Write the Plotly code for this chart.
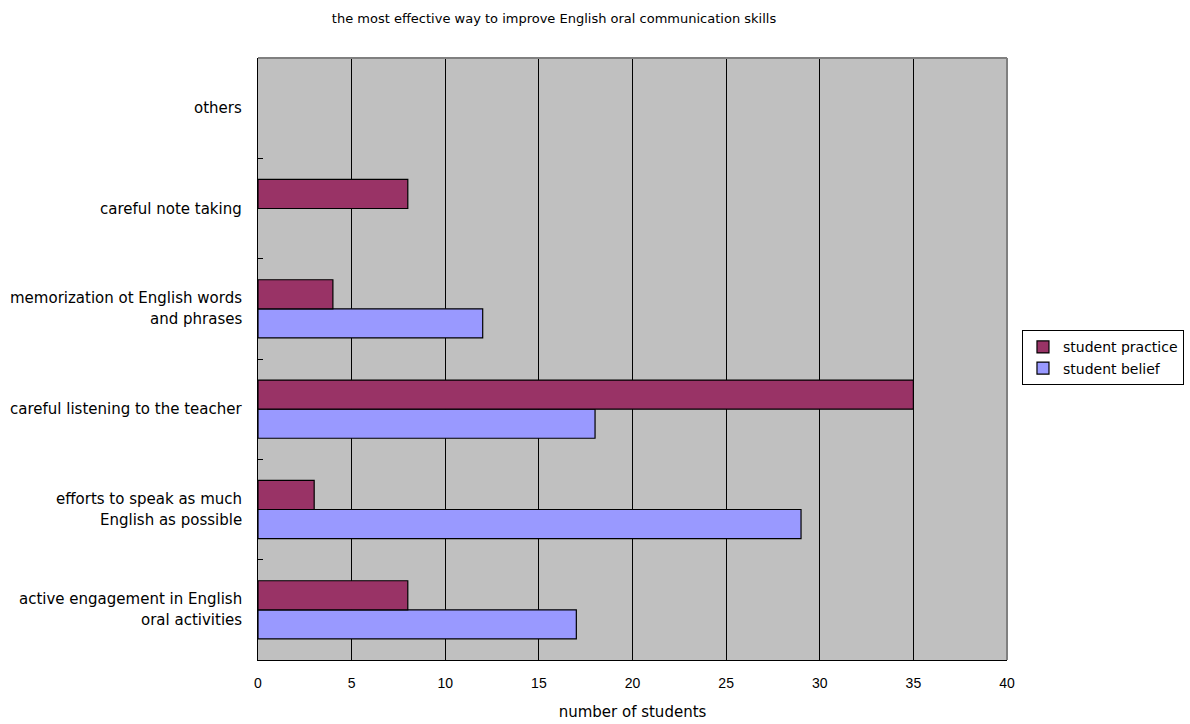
import plotly.graph_objects as go

categories = [
    "active engagement in English\noral activities",
    "efforts to speak as much\nEnglish as possible",
    "careful listening to the teacher",
    "memorization ot English words\nand phrases",
    "careful note taking",
    "others",
]
practice = [8, 3, 35, 4, 8, 0]
belief = [17, 29, 18, 12, 0, 0]
x_ticks = [0, 5, 10, 15, 20, 25, 30, 35, 40]

FONT = "DejaVu Sans, sans-serif"
NUMFONT = "Liberation Sans, Arial, sans-serif"
cat_ids = [c.replace("\n", " ") for c in categories]


def nz(vals):
    # zero-length bars are not drawn in the reference
    return [v if v != 0 else None for v in vals]


fig = go.Figure()
fig.add_trace(go.Bar(
    y=cat_ids, x=nz(belief), orientation="h", name="student belief",
    marker=dict(color="#9999FF", line=dict(color="black", width=1.2)),
))
fig.add_trace(go.Bar(
    y=cat_ids, x=nz(practice), orientation="h", name="student practice",
    marker=dict(color="#993366", line=dict(color="black", width=1.2)),
))

annotations = []
for cid, label in zip(cat_ids, categories):
    lines = label.split("\n")
    n = len(lines)
    for i, ln in enumerate(lines):
        annotations.append(dict(
            x=0, xref="paper", y=cid, yref="y", xshift=-14,
            yshift=((n - 1) / 2 - i) * 21,
            text=ln, showarrow=False, xanchor="right", yanchor="middle",
            align="center", font=dict(family=FONT, size=15, color="black"),
        ))

fig.update_layout(
    width=1190, height=724,
    margin=dict(l=258, r=183, t=58, b=64, autoexpand=False),
    paper_bgcolor="white", plot_bgcolor="#C0C0C0",
    barmode="group", bargap=0.42, bargroupgap=0,
    font=dict(family=FONT, size=13, color="black"),
    title=dict(text="the most effective way to improve English oral communication skills",
               x=554 / 1190, xanchor="center", xref="container",
               y=1 - 18 / 724, yanchor="middle", yref="container",
               font=dict(family=FONT, size=13, color="black")),
    legend=dict(x=1.02, y=0.502, xanchor="left", yanchor="middle",
                traceorder="reversed", bgcolor="white",
                bordercolor="black", borderwidth=1,
                font=dict(family=FONT, size=14, color="black"),
                itemwidth=30, tracegroupgap=0),
    annotations=annotations,
    xaxis=dict(range=[0, 40], tickvals=x_ticks, ticktext=[str(v) for v in x_ticks],
               showgrid=True, gridcolor="black", gridwidth=1,
               zeroline=False, showline=True, linecolor="black", linewidth=1,
               ticks="inside", ticklen=5, tickcolor="black",
               ticklabelstandoff=10,
               tickfont=dict(family=NUMFONT, size=14),
               title=dict(text="number of students", font=dict(family=FONT, size=15), standoff=16)),
    yaxis=dict(categoryorder="array", categoryarray=cat_ids,
               showticklabels=False, showgrid=False, zeroline=False,
               showline=True, linecolor="black", linewidth=1,
               ticks="inside", ticklen=5, tickcolor="black", tickson="boundaries"),
    shapes=[
        dict(type="line", xref="paper", yref="paper", x0=0, x1=1, y0=1, y1=1,
             line=dict(color="#808080", width=2), layer="above"),
        dict(type="line", xref="paper", yref="paper", x0=1, x1=1, y0=0, y1=1,
             line=dict(color="#808080", width=2), layer="above"),
    ],
)

fig.write_html("out.html")
